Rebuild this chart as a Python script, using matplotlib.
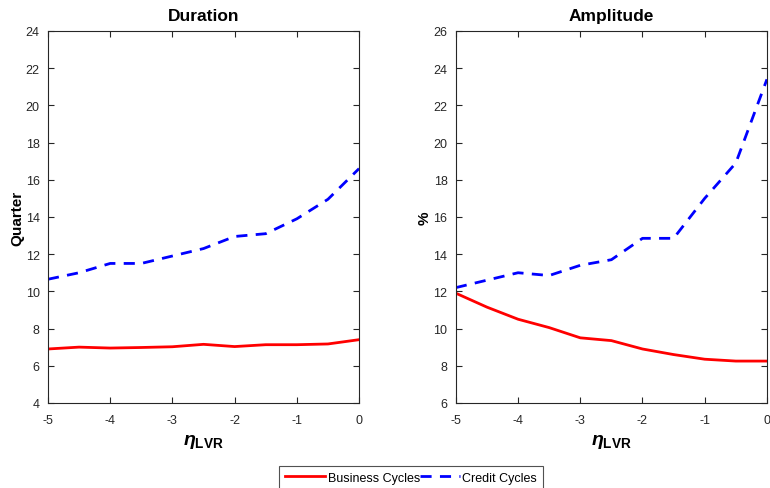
import numpy as np
import matplotlib
matplotlib.use("Agg")
import matplotlib.pyplot as plt

plt.rcParams['font.family'] = ['Liberation Sans', 'DejaVu Sans']
plt.rcParams['mathtext.fontset'] = 'custom'
plt.rcParams['mathtext.rm'] = 'Liberation Sans'
plt.rcParams['mathtext.it'] = 'Liberation Sans:italic:bold'
plt.rcParams['mathtext.bf'] = 'Liberation Sans:bold'
plt.rcParams['axes.unicode_minus'] = False

# LVR elasticity grid
eta = [-5, -4.5, -4, -3.5, -3, -2.5, -2, -1.5, -1, -0.5, 0]

# Duration (quarters)
dur_business = [6.9, 7.0, 6.95, 6.98, 7.02, 7.15, 7.03, 7.13, 7.13, 7.17, 7.4]
dur_credit = [10.65, 11.0, 11.5, 11.5, 11.9, 12.3, 12.95, 13.1, 13.9, 14.95, 16.6]

# Amplitude (%)
amp_business = [11.9, 11.15, 10.5, 10.05, 9.5, 9.35, 8.9, 8.6, 8.35, 8.25, 8.25]
amp_credit = [12.2, 12.6, 13.0, 12.85, 13.4, 13.7, 14.85, 14.85, 17.0, 18.9, 23.4]

fig = plt.figure(figsize=(7.7, 4.89), dpi=100)
ax1 = fig.add_axes([0.0623, 0.174, 0.404, 0.7606])
ax2 = fig.add_axes([0.592, 0.174, 0.404, 0.7606])

tick_col = '#262626'


def style_axes(ax, ylim, yticks, title, ylabel):
    ax.set_xlim(-5, 0)
    ax.set_ylim(*ylim)
    ax.set_xticks(range(-5, 1))
    ax.set_yticks(yticks)
    ax.tick_params(direction='in', top=True, right=True, length=4,
                   labelsize=9, colors=tick_col, width=0.8)
    ax.tick_params(axis='x', pad=8)
    ax.tick_params(axis='y', pad=6)
    for s in ax.spines.values():
        s.set_color(tick_col)
        s.set_linewidth(0.8)
    ax.set_title(title, fontsize=12.5, fontweight='bold', pad=8)
    ax.set_ylabel(ylabel, fontsize=11, fontweight='bold', labelpad=1)
    ax.set_xlabel(r'$\eta_{\mathbf{LVR}}$', fontsize=14, labelpad=4)


l1, = ax1.plot(eta, dur_business, color='red', lw=2, label='Business Cycles')
l2, = ax1.plot(eta, dur_credit, color='blue', lw=2, ls=(0, (4, 3)), label='Credit Cycles')
style_axes(ax1, (4, 24), range(4, 25, 2), 'Duration', 'Quarter')

ax2.plot(eta, amp_business, color='red', lw=2)
ax2.plot(eta, amp_credit, color='blue', lw=2, ls=(0, (4, 3)))
style_axes(ax2, (6, 26), range(6, 27, 2), 'Amplitude', '%')

leg = fig.legend(handles=[l1, l2], loc='upper center', bbox_to_anchor=(0.534, 0.046),
                 ncol=2, fontsize=9, frameon=True, fancybox=False,
                 edgecolor=tick_col, handlelength=3.2, handletextpad=0.2,
                 columnspacing=0.0, borderpad=0.5, borderaxespad=0)
leg.get_frame().set_linewidth(0.8)

fig.savefig('out.png', dpi=100)
